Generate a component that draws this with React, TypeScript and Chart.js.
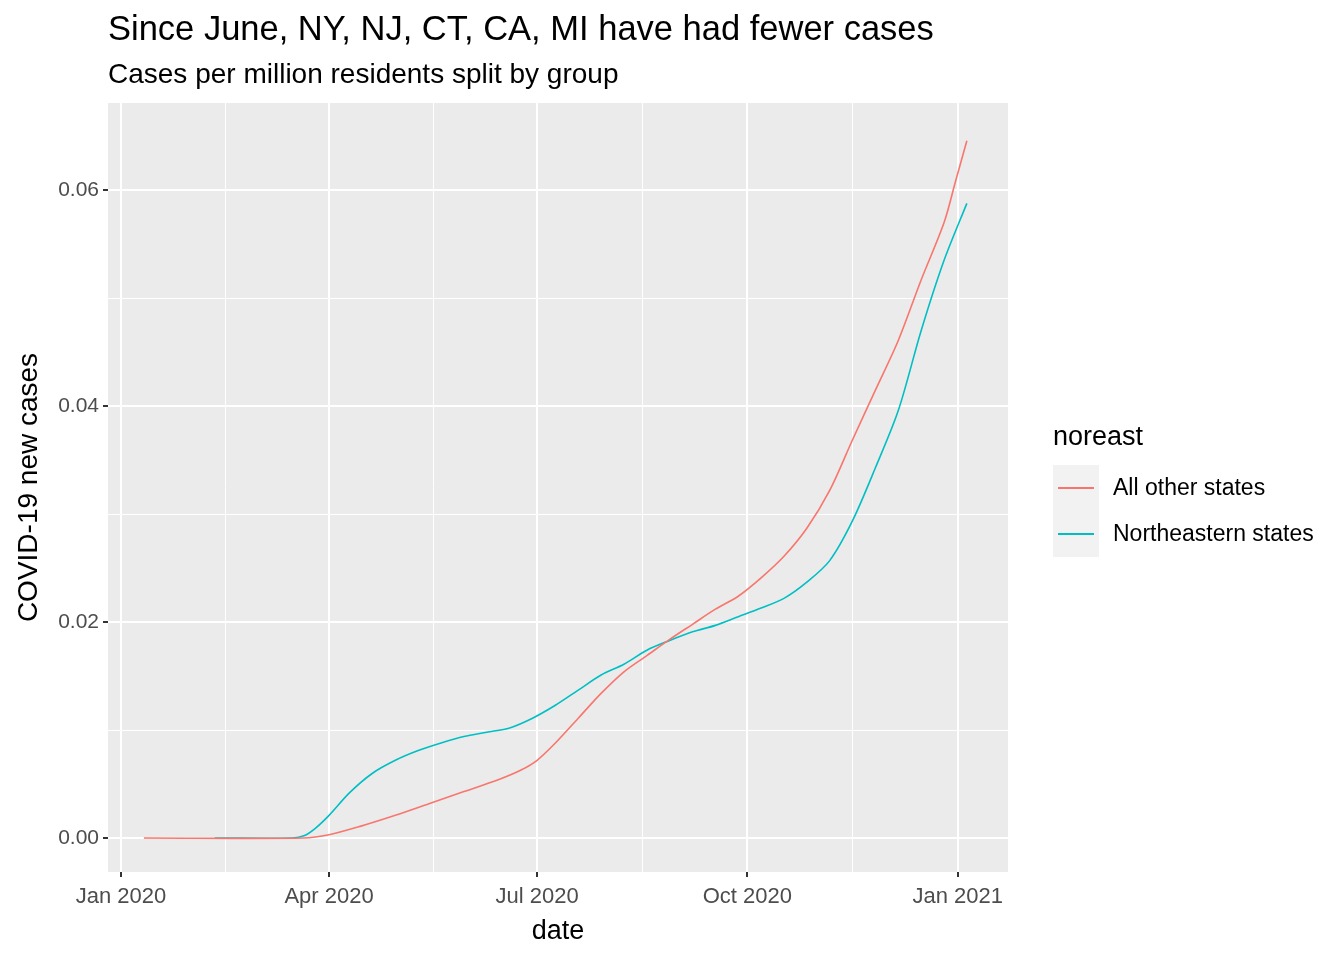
import React, { useEffect, useRef } from 'react';
import Chart from 'chart.js/auto';

// days since 2020-01-01
const redDays = [10, 80, 91, 105, 120, 135, 150, 165, 175, 182, 190, 200, 210, 220, 230, 240, 250, 260, 270, 280, 290, 300, 310, 320, 330, 340, 350, 360, 365, 370];
const redVals = [0, 0, 0.0003, 0.0011, 0.0021, 0.0032, 0.0043, 0.0054, 0.0063, 0.0072, 0.0088, 0.0111, 0.0134, 0.0154, 0.0169, 0.0184, 0.0198, 0.0212, 0.0224, 0.0241, 0.0261, 0.0287, 0.0322, 0.0369, 0.0415, 0.0461, 0.0517, 0.057, 0.0608, 0.0646];
const tealDays = [41, 75, 80, 85, 91, 100, 110, 120, 130, 140, 150, 160, 170, 180, 190, 200, 210, 220, 230, 240, 250, 260, 270, 280, 290, 300, 310, 320, 330, 340, 350, 360, 370];
const tealVals = [0, 0, 0.0002, 0.0009, 0.0021, 0.0042, 0.006, 0.0072, 0.0081, 0.0088, 0.0094, 0.0098, 0.0102, 0.0111, 0.0123, 0.0137, 0.0151, 0.0161, 0.0174, 0.0183, 0.0191, 0.0197, 0.0205, 0.0213, 0.0222, 0.0237, 0.0257, 0.0294, 0.0343, 0.0396, 0.047, 0.0535, 0.0588];

const xMajor = [0, 91, 182, 274, 366];
const xLabels = ['Jan 2020', 'Apr 2020', 'Jul 2020', 'Oct 2020', 'Jan 2021'];
const xMinor = [45.5, 136.5, 228, 320];
const yMajor = [0, 0.02, 0.04, 0.06];
const yMinor = [0.01, 0.03, 0.05];

const font = '"Liberation Sans", Arial, sans-serif';
const isMajorY = (v: any) => yMajor.some((m) => Math.abs(m - v) < 1e-9);

const App: React.FC = () => {
  const ref = useRef<HTMLCanvasElement | null>(null);

  useEffect(() => {
    if (!ref.current) return;
    const chart = new Chart(ref.current, {
      type: 'line',
      data: {
        datasets: [
          {
            label: 'All other states',
            data: redDays.map((d, i) => ({ x: d, y: redVals[i] })),
            borderColor: '#F8766D',
            borderWidth: 1.6,
            pointRadius: 0,
            tension: 0.3,
          },
          {
            label: 'Northeastern states',
            data: tealDays.map((d, i) => ({ x: d, y: tealVals[i] })),
            borderColor: '#00BFC4',
            borderWidth: 1.6,
            pointRadius: 0,
            tension: 0.3,
          },
        ],
      },
      options: {
        animation: false,
        responsive: false,
        layout: { padding: { top: 103, right: 336, left: 0, bottom: 0 } },
        plugins: { legend: { display: false }, tooltip: { enabled: false } },
        scales: {
          x: {
            type: 'linear',
            min: -5.7,
            max: 388,
            afterBuildTicks: (s: any) => {
              s.ticks = [...xMajor, ...xMinor].sort((a, b) => a - b).map((v) => ({ value: v }));
            },
            afterFit: (s: any) => { s.height = 88; },
            ticks: {
              autoSkip: false,
              maxRotation: 0,
              color: '#4D4D4D',
              font: { family: font, size: 22 },
              padding: 7,
              callback: (v: any) => { const i = xMajor.indexOf(v); return i >= 0 ? xLabels[i] : ''; },
            },
            grid: {
              color: '#FFFFFF',
              lineWidth: (c: any) => (xMajor.includes(c.tick?.value) ? 2 : 1),
              tickColor: (c: any) => (xMajor.includes(c.tick?.value) ? '#333333' : 'rgba(0,0,0,0)'),
              tickLength: 5,
            },
            border: { display: false },
            title: { display: true, text: 'date', color: '#000', font: { family: font, size: 27 }, padding: { top: 0, bottom: 12 } },
          },
          y: {
            type: 'linear',
            min: -0.00315,
            max: 0.0681,
            afterBuildTicks: (s: any) => {
              s.ticks = [...yMajor, ...yMinor].sort((a, b) => a - b).map((v) => ({ value: v }));
            },
            afterFit: (s: any) => { s.width = 108; },
            ticks: {
              autoSkip: false,
              color: '#4D4D4D',
              font: { family: font, size: 21 },
              padding: 4,
              callback: (v: any) => (isMajorY(v) ? Number(v).toFixed(2) : ''),
            },
            grid: {
              color: '#FFFFFF',
              lineWidth: (c: any) => (isMajorY(c.tick?.value) ? 2 : 1),
              tickColor: (c: any) => (isMajorY(c.tick?.value) ? '#333333' : 'rgba(0,0,0,0)'),
              tickLength: 5,
            },
            border: { display: false },
            title: { display: true, text: 'COVID-19 new cases', color: '#000', font: { family: font, size: 28 }, padding: { top: 12, bottom: 0 } },
          },
        },
      },
      plugins: [
        {
          id: 'panelBg',
          beforeDraw: (c: any) => {
            const { ctx, chartArea: a } = c;
            ctx.save();
            ctx.fillStyle = '#EBEBEB';
            ctx.fillRect(a.left, a.top, a.right - a.left, a.bottom - a.top);
            ctx.restore();
          },
        },
      ],
    });
    return () => chart.destroy();
  }, []);

  const key = (color: string, top: number, label: string) => (
    <>
      <div style={{ position: 'absolute', left: 1053, top, width: 46, height: 46, background: '#F2F2F2' }}>
        <div style={{ position: 'absolute', left: 5, right: 5, top: 22, height: 1.6, background: color }} />
      </div>
      <div style={{ position: 'absolute', left: 1113, top: top + 9, fontSize: 23, color: '#000', whiteSpace: 'nowrap' }}>{label}</div>
    </>
  );

  return (
    <div style={{ position: 'absolute', left: 0, top: 0, width: 1344, height: 960, background: '#fff', fontFamily: font }}>
      <canvas ref={ref} width={1344} height={960} style={{ position: 'absolute', left: 0, top: 0 }} />
      <div style={{ position: 'absolute', left: 108, top: 9, fontSize: 34.5, color: '#000', whiteSpace: 'nowrap' }}>
        Since June, NY, NJ, CT, CA, MI have had fewer cases
      </div>
      <div style={{ position: 'absolute', left: 108, top: 58, fontSize: 28, color: '#000', whiteSpace: 'nowrap' }}>
        Cases per million residents split by group
      </div>
      <div style={{ position: 'absolute', left: 1053, top: 421, fontSize: 27, color: '#000' }}>noreast</div>
      {key('#F8766D', 465, 'All other states')}
      {key('#00BFC4', 511, 'Northeastern states')}
    </div>
  );
};

export default App;
